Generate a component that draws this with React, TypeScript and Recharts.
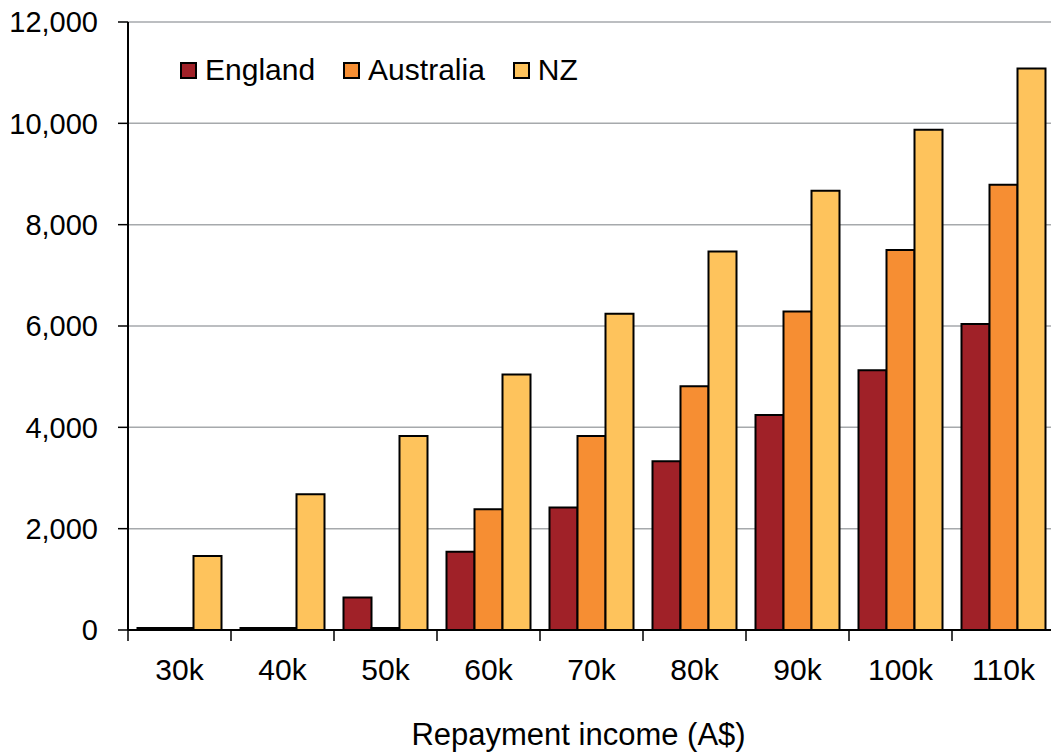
import { BarChart, Bar, XAxis, YAxis, CartesianGrid, Legend } from 'recharts';

// Repayment by income band, A$
const incomes = ['30k', '40k', '50k', '60k', '70k', '80k', '90k', '100k', '110k'];
const england = [40, 40, 640, 1545, 2420, 3330, 4245, 5125, 6040];
const australia = [40, 40, 40, 2385, 3830, 4810, 6285, 7500, 8790];
const nz = [1460, 2680, 3830, 5045, 6240, 7470, 8670, 9875, 11080];
const yTicks = [0, 2000, 4000, 6000, 8000, 10000, 12000];

const series = [
  { key: 'England', color: '#a02128' },
  { key: 'Australia', color: '#f68e33' },
  { key: 'NZ', color: '#fec35c' },
];

const data = incomes.map((name, i) => ({
  name,
  England: england[i],
  Australia: australia[i],
  NZ: nz[i],
}));

const FONT = '"Liberation Sans", Arial, sans-serif';
const W = 1060;
const H = 752;
const BAND = (W - 128 - 5) / incomes.length;

const fmt = (v: number) => v.toLocaleString('en-US');

// category label plus a divider tick on the left edge of each band
function IncomeTick(props: any) {
  const { x, y, payload } = props;
  const half = typeof payload?.offset === 'number' && payload.offset > 0 ? payload.offset : BAND / 2;
  return (
    <g>
      <line x1={x - half} x2={x - half} y1={y} y2={y + 11} stroke="#000" strokeWidth={1.5} />
      <text x={x} y={y + 50} textAnchor="middle" fontSize={30} fill="#000" fontFamily={FONT}>
        {payload.value}
      </text>
    </g>
  );
}

// keeps the series order instead of the legend's sorted payload
function KeyRow() {
  return (
    <div style={{ display: 'flex', alignItems: 'center', fontFamily: FONT, fontSize: 30, color: '#000' }}>
      {series.map((s) => (
        <div key={s.key} style={{ display: 'flex', alignItems: 'center', marginRight: 28 }}>
          <span
            style={{
              width: 13,
              height: 13,
              background: s.color,
              border: '2px solid #000',
              marginRight: 8,
              display: 'inline-block',
            }}
          />
          <span>{s.key}</span>
        </div>
      ))}
    </div>
  );
}

export default function App() {
  return (
    <div
      style={{
        position: 'absolute',
        left: 0,
        top: 0,
        width: 1051,
        height: H,
        overflow: 'hidden',
        background: '#fff',
        fontFamily: FONT,
      }}
    >
      <BarChart
        width={W}
        height={H}
        data={data}
        margin={{ top: 22, right: 5, bottom: 0, left: 0 }}
        barCategoryGap={9.5}
        barGap={0}
      >
        <CartesianGrid vertical={false} stroke="#a6a9ac" strokeWidth={1.5} />
        <XAxis
          dataKey="name"
          height={122}
          tickLine={false}
          tickSize={0}
          tickMargin={0}
          axisLine={{ stroke: '#000', strokeWidth: 2 }}
          tick={<IncomeTick />}
          interval={0}
          label={{
            value: 'Repayment income (A$)',
            position: 'insideBottom',
            offset: 7,
            dx: -13,
            fontSize: 31,
            fill: '#000',
            fontFamily: FONT,
          }}
        />
        <YAxis
          width={128}
          domain={[0, 12000]}
          ticks={yTicks}
          tickFormatter={fmt}
          tickSize={10}
          tickMargin={20}
          tickLine={{ stroke: '#000', strokeWidth: 1.5 }}
          axisLine={{ stroke: '#000', strokeWidth: 2 }}
          tick={{ fontSize: 29, fill: '#000', fontFamily: FONT }}
          interval={0}
        />
        <Legend
          layout="horizontal"
          verticalAlign="middle"
          align="center"
          content={<KeyRow />}
          wrapperStyle={{ top: 53, left: 180, width: 'auto' }}
        />
        {series.map((s) => (
          <Bar
            key={s.key}
            dataKey={s.key}
            fill={s.color}
            stroke="#000"
            strokeWidth={2}
            isAnimationActive={false}
          />
        ))}
      </BarChart>
    </div>
  );
}
